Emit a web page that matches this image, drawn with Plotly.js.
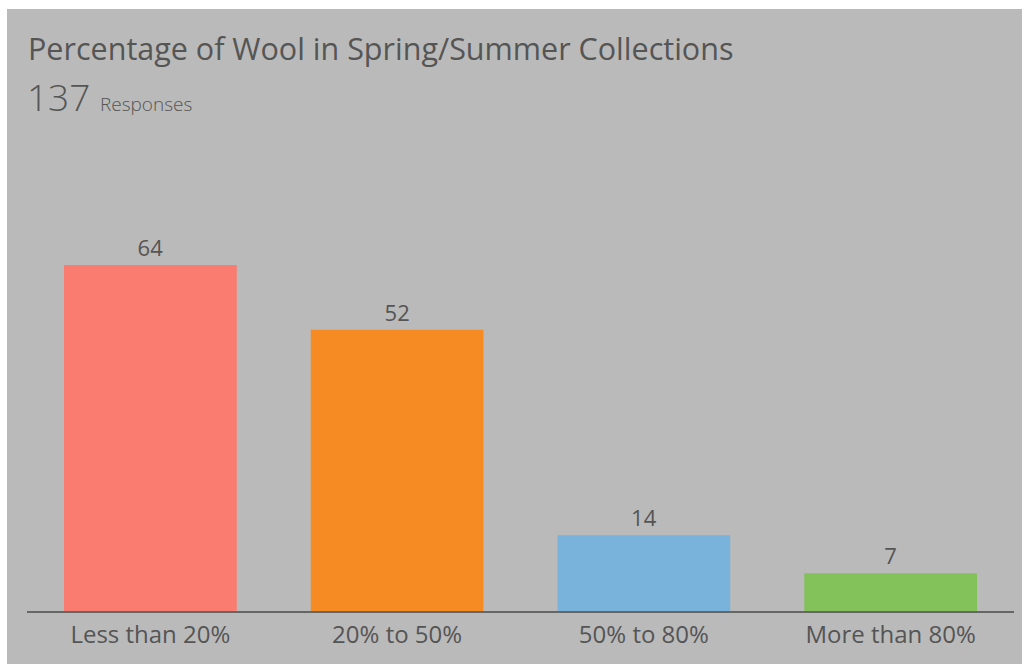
<!DOCTYPE html>
<html>
<head>
<meta charset="utf-8">
<script src="https://cdn.plot.ly/plotly-3.0.1.min.js"></script>
<style>
html,body{margin:0;padding:0;background:#ffffff;}
#chart{position:absolute;left:7px;top:9px;width:1015px;height:655px;}
</style>
</head>
<body>
<div id="chart"></div>
<script>
const categories = ["Less than 20%", "20% to 50%", "50% to 80%", "More than 80%"];
const counts = [64, 52, 14, 7];
const barColors = ["#fa7b70", "#f68b24", "#79b3dc", "#83c25a"];
const totalResponses = 137;

const trace = {
  type: "bar",
  x: categories,
  y: counts,
  text: counts.map(String),
  textposition: "outside",
  cliponaxis: false,
  textfont: {family: "Open Sans", size: 22, color: "#555555"},
  marker: {color: barColors},
  hoverinfo: "x+y"
};

const layout = {
  width: 1015,
  height: 655,
  paper_bgcolor: "#bababa",
  plot_bgcolor: "#bababa",
  margin: {l: 19.5, r: 7.5, t: 141, b: 53},
  bargap: 0.30,
  showlegend: false,
  font: {family: "Open Sans", color: "#555555"},
  xaxis: {
    showline: true, linecolor: "#666666", linewidth: 1.5,
    ticks: "", showgrid: false, zeroline: false, ticklabelstandoff: 2,
    tickfont: {family: "Open Sans", size: 24, color: "#555555"}
  },
  yaxis: {
    range: [0, 85.27], visible: false, showgrid: false, zeroline: false
  },
  annotations: [
    {
      xref: "paper", yref: "paper", x: (18 - 19.5) / 988, y: 1 + (141 - 39) / 461,
      xanchor: "left", yanchor: "middle", showarrow: false,
      text: "Percentage of Wool in Spring/Summer Collections",
      font: {family: "Open Sans", size: 30.5, color: "#555555"}
    },
    {
      xref: "paper", yref: "paper", x: (17 - 19.5) / 988, y: 1 + (141 - 87) / 461,
      xanchor: "left", yanchor: "middle", showarrow: false,
      text: totalResponses + " <span style='font-size:19px'>Responses</span>",
      font: {family: "Open Sans", size: 37, color: "#555555", weight: 300}
    }
  ]
};

Plotly.newPlot("chart", [trace], layout, {displayModeBar: false, staticPlot: true});
</script>
</body>
</html>
